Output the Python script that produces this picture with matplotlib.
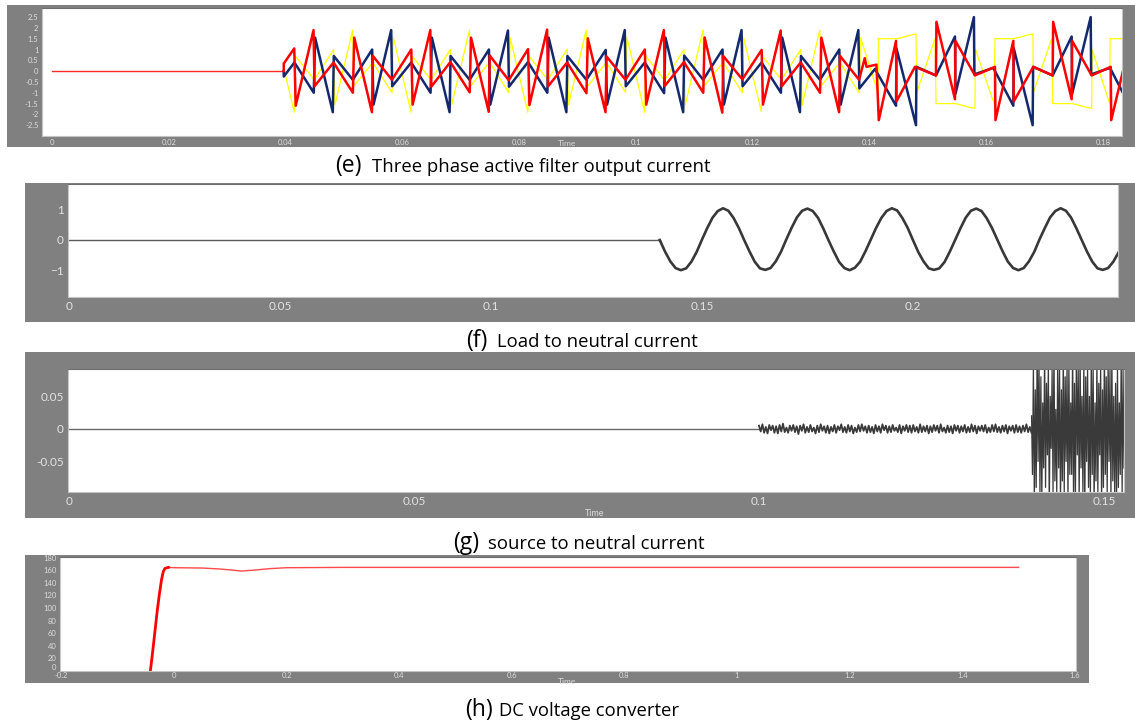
import numpy as np
import matplotlib.pyplot as plt
from matplotlib.patches import Rectangle

W, H = 1135, 723
plt.rcParams['font.family'] = ['Lato', 'DejaVu Sans']

# ---------- (e) three phase active filter output current (times in ms) ----------
idle_ms = [0, 39.7]
idle_v = [0, 0]

red_ms = [39.7, 39.7, 41.5, 41.75, 44.8,
          44.97, 48.23, 51.54, 51.77, 54.8, 54.97, 58.23, 61.54, 61.77, 64.8,
          64.97, 68.23, 71.54, 71.77, 74.8, 74.97, 78.23, 81.54, 81.77, 84.8,
          84.97, 88.23, 91.54, 91.77, 94.8, 94.97, 98.23, 101.54, 101.77, 104.8,
          104.97, 108.23, 111.54, 111.77, 114.8, 114.97, 118.23, 121.54, 121.77, 124.8,
          124.97, 128.23, 131.54, 131.77, 134.8, 134.97, 138.23, 139.2, 139.5, 141.2,
          141.6, 144.55, 144.63, 147.8, 151.39, 151.47, 154.65, 154.73, 158.07, 161.5,
          161.58, 164.64, 164.72, 168.06, 171.38, 171.46, 174.63, 174.71, 178.06, 181.32,
          181.4, 183.5]
red_v = [0, 0.35, 1.05, -1.6, 1.9,
         -0.7, 0.4, -1.0, 1.55, -1.9, 0.7, -0.4, 1.0, -1.55, 1.9,
         -0.72, 0.42, -0.98, 1.55, -1.88, 0.72, -0.42, 1.02, -1.57, 1.92,
         -0.7, 0.4, -1.02, 1.52, -1.9, 0.68, -0.4, 1.0, -1.55, 1.9,
         -0.68, 0.42, -1.0, 1.56, -1.92, 0.7, -0.38, 0.98, -1.55, 1.88,
         -0.7, 0.4, -1.0, 1.55, -1.9, 0.7, -0.4, 0.6, 0.2, 0.3,
         -2.27, 1.4, -1.4, 0.2, -0.2, 2.28, -1.3, 1.4, -0.2, 0.2,
         -2.27, 1.4, -1.4, 0.2, -0.2, 2.28, -1.3, 1.4, -0.2, 0.2,
         -2.27, 0.1]

yellow_ms = [40.0, 41.5, 41.67, 44.93, 48.24, 48.47, 51.5,
             51.67, 54.93, 58.24, 58.47, 61.5, 61.67, 64.93, 68.24, 68.47, 71.5,
             71.67, 74.93, 78.24, 78.47, 81.5, 81.67, 84.93, 88.24, 88.47, 91.5,
             91.67, 94.93, 98.24, 98.47, 101.5, 101.67, 104.93, 108.24, 108.47, 111.5,
             111.67, 114.93, 118.24, 118.47, 121.5, 121.67, 124.93, 128.24, 128.47, 131.5,
             131.67, 134.93, 138.24, 138.47, 141.47, 141.52, 144.66, 145.8, 146.9, 147.97,
             148.08, 151.23, 151.4, 154.65, 155.8, 156.9, 158.07, 158.15, 161.35, 161.5,
             164.64, 165.8, 166.9, 168.0, 168.06, 171.2, 171.38, 174.63, 175.8, 176.9,
             178.06, 178.12, 181.15, 181.2, 183.5]
yellow_v = [-0.2, -1.9, 0.7, -0.4, 1.0, -1.55, 1.9,
            -0.7, 0.4, -1.0, 1.55, -1.9, 0.7, -0.4, 1.0, -1.55, 1.9,
            -0.7, 0.42, -1.0, 1.55, -1.9, 0.7, -0.4, 1.02, -1.55, 1.9,
            -0.72, 0.4, -0.98, 1.55, -1.9, 0.7, -0.42, 1.0, -1.55, 1.9,
            -0.7, 0.4, -1.0, 1.53, -1.88, 0.7, -0.4, 1.0, -1.57, 1.9,
            -0.7, 0.4, -1.0, 1.55, -1.0, 1.5, 1.5, 1.57, 1.66, 1.72,
            -1.0, 1.5, -1.5, -1.5, -1.57, -1.66, -1.72, 1.0, -1.5, 1.5,
            1.5, 1.57, 1.66, 1.72, -1.0, 1.5, -1.5, -1.5, -1.57, -1.66,
            -1.72, 1.0, -1.5, 1.5, 1.5]

blue_ms = [39.7, 39.7, 41.53, 44.84, 45.07, 48.1, 48.27, 51.53, 54.84, 55.07, 58.1,
           58.27, 61.53, 64.84, 65.07, 68.1, 68.27, 71.53, 74.84, 75.07, 78.1,
           78.27, 81.53, 84.84, 85.07, 88.1, 88.27, 91.53, 94.84, 95.07, 98.1,
           98.27, 101.53, 104.84, 105.07, 108.1, 108.27, 111.53, 114.84, 115.07, 118.1,
           118.27, 121.53, 124.84, 125.07, 128.1, 128.27, 131.53, 134.84, 135.07, 138.1,
           138.27, 140.95, 144.55, 144.63, 147.97, 148.05, 151.39, 154.65, 154.73, 157.89,
           157.97, 161.21, 164.64, 164.72, 167.95, 168.03, 171.38, 174.63, 174.71, 177.89,
           177.97, 181.2, 183.3]
blue_v = [0, -0.25, 0.4, -1.0, 1.55, -1.9, 0.7, -0.4, 1.0, -1.55, 1.9,
          -0.7, 0.4, -1.0, 1.55, -1.9, 0.7, -0.4, 1.0, -1.55, 1.88,
          -0.72, 0.42, -1.0, 1.55, -1.9, 0.7, -0.4, 0.98, -1.55, 1.9,
          -0.7, 0.4, -1.02, 1.55, -1.9, 0.72, -0.4, 1.0, -1.55, 1.9,
          -0.7, 0.4, -1.0, 1.55, -1.9, 0.7, -0.4, 1.0, -1.55, 1.9,
          -0.8, 0.1, -1.6, 1.05, -2.5, 0.2, -0.2, 1.6, -1.05, 2.5,
          -0.15, 0.15, -1.6, 1.05, -2.5, 0.2, -0.2, 1.6, -1.05, 2.5,
          -0.15, 0.15, -0.95]

e_xticks = [0, 0.02, 0.04, 0.06, 0.08, 0.1, 0.12, 0.14, 0.16, 0.18]
e_xlabels = ['0', '0.02', '0.04', '0.06', '0.08', '0.1', '0.12', '0.14', '0.16', '0.18']
e_yticks = [2.5, 2, 1.5, 1, 0.5, 0, -0.5, -1, -1.5, -2, -2.5]
e_ylabels = ['2.5', '2', '1.5', '1', '0.5', '0', '-0.5', '-1', '-1.5', '-2', '-2.5']

# ---------- (f) load to neutral current ----------
f_idle_t = [0, 0.14]
f_idle_v = [0, 0]
f_start, f_step = 0.14, 0.00125
f_v = [0, -0.38, -0.70, -0.92, -0.99, -0.93, -0.71, -0.39, 0.01, 0.39, 0.73, 0.95, 1.04, 0.96, 0.72, 0.39,
       0.0, -0.37, -0.71, -0.93, -0.98, -0.92, -0.70, -0.38, 0.02, 0.40, 0.74, 0.96, 1.03, 0.95, 0.73, 0.38,
       -0.01, -0.38, -0.72, -0.92, -0.99, -0.91, -0.71, -0.37, 0.01, 0.39, 0.72, 0.95, 1.04, 0.97, 0.72, 0.40,
       0.0, -0.39, -0.70, -0.93, -0.98, -0.93, -0.72, -0.38, 0.0, 0.38, 0.73, 0.96, 1.03, 0.95, 0.71, 0.39,
       0.01, -0.37, -0.71, -0.92, -0.99, -0.92, -0.70, -0.39, 0.02, 0.39, 0.74, 0.95, 1.04, 0.96, 0.73, 0.38,
       0.0, -0.38, -0.71, -0.93, -0.98, -0.92, -0.71, -0.40]
f_xticks = [0, 0.05, 0.1, 0.15, 0.2]
f_xlabels = ['0', '0.05', '0.1', '0.15', '0.2']
f_yticks = [1, 0, -1]

# ---------- (g) source to neutral current ----------
g_idle_t = [0, 0.1]
g_idle_v = [0, 0]
g_small_span = (0.1, 0.1395)
g_small = [0.005, -0.004, 0.007, -0.006, 0.003, -0.007, 0.006, -0.002, 0.005, -0.006,
           0.004, -0.007, 0.006, -0.004, 0.008, -0.005, 0.002, -0.006, 0.005, -0.003,
           0.006, -0.005, 0.004, -0.008, 0.005, -0.003, 0.007, -0.006, 0.003, -0.005,
           0.006, -0.004, 0.002, -0.007, 0.005, -0.005, 0.007, -0.003, 0.004, -0.006,
           0.005, -0.007, 0.003, -0.004, 0.006, -0.006, 0.004, -0.002, 0.007, -0.005,
           0.003, -0.006, 0.006, -0.004, 0.005, -0.007, 0.002, -0.005, 0.006, -0.004,
           0.007, -0.003, 0.004, -0.006, 0.005, -0.005, 0.003, -0.007, 0.006, -0.004,
           0.004, -0.006, 0.007, -0.002, 0.005, -0.006, 0.004, -0.005, 0.006, -0.003,
           0.002, -0.005, 0.006, -0.007, 0.004, -0.003, 0.006, -0.005, 0.005, -0.006,
           0.006, -0.004, 0.003, -0.006, 0.007, -0.005, 0.004, -0.004, 0.005, -0.007,
           0.004, -0.005, 0.006, -0.003, 0.005, -0.006, 0.007, -0.004, 0.002, -0.006,
           0.005, -0.005, 0.004, -0.007, 0.006, -0.003, 0.005, -0.006, 0.004, -0.004,
           0.006, -0.006, 0.003, -0.005, 0.007, -0.004, 0.005, -0.007, 0.004, -0.003,
           0.005, -0.004, 0.006, -0.006, 0.002, -0.005, 0.006, -0.004, 0.007, -0.005,
           0.003, -0.006, 0.005, -0.004, 0.006, -0.007, 0.004, -0.003, 0.005, -0.006,
           0.006, -0.005, 0.004, -0.006, 0.005, -0.004, 0.007, -0.005, 0.003, -0.006]
g_large_span = (0.1395, 0.1529)
g_large = [0.02, -0.07, 0.10, -0.12, 0.06, -0.09, 0.13, -0.05, 0.11, -0.10,
           0.08, -0.11, 0.04, -0.06, 0.12, -0.09, 0.07, -0.04, 0.10, -0.13,
           0.05, -0.03, 0.09, -0.10, 0.13, -0.08, 0.03, -0.10, 0.11, -0.06,
           0.09, -0.12, 0.06, -0.08, 0.12, -0.10, 0.08, -0.05, 0.10, -0.11,
           0.10, -0.07, 0.04, -0.07, 0.13, -0.12, 0.07, -0.10, 0.11, -0.04,
           0.09, -0.11, 0.12, -0.06, 0.05, -0.10, 0.11, -0.13, 0.08, -0.05,
           0.10, -0.09, 0.05, -0.11, 0.12, -0.07, 0.09, -0.12, 0.04, -0.08,
           0.11, -0.10, 0.07, -0.04, 0.10, -0.12, 0.06, -0.09, 0.13, -0.07,
           0.08, -0.10, 0.11, -0.05, 0.09, -0.11, 0.12, -0.08, 0.05, -0.10,
           0.07, -0.12, 0.10, -0.09, 0.04, -0.07, 0.11, -0.10, 0.09, -0.06]
g_xticks = [0, 0.05, 0.1, 0.15]
g_xlabels = ['0', '0.05', '0.1', '0.15']
g_yticks = [0.05, 0, -0.05]
g_ylabels = ['0.05', '0', '-0.05']

# ---------- (h) DC voltage converter ----------
h_rise_t = [-0.042, -0.038, -0.034, -0.030, -0.026, -0.022, -0.019, -0.016, -0.010]
h_rise_v = [0, 30, 62, 94, 122, 146, 158, 163, 164.5]
h_flat_t = [-0.010, 0.0, 0.05, 0.08, 0.10, 0.12, 0.14, 0.17, 0.20, 0.30, 0.60, 1.0, 1.5]
h_flat_v = [164.5, 164, 163.5, 162, 160.5, 158.7, 160, 162.5, 164, 164.5, 164.5, 164.5, 164.5]
h_xticks = [-0.2, 0, 0.2, 0.4, 0.6, 0.8, 1, 1.2, 1.4, 1.6]
h_xlabels = ['-0.2', '0', '0.2', '0.4', '0.6', '0.8', '1', '1.2', '1.4', '1.6']
h_yticks = [0, 20, 40, 60, 80, 100, 120, 140, 160, 180]

captions = [('(e)', 'Three phase active filter output current', 335, 372, 166),
            ('(f)', 'Load to neutral current', 466, 497, 341),
            ('(g)', 'source to neutral current', 453, 488, 543),
            ('(h)', 'DC voltage converter', 465, 499, 710)]

GRAY = '#808080'
LABEL = '#e2e2e2'

fig = plt.figure(figsize=(W / 100, H / 100), dpi=100)


def frame(x0, y0, x1, y1):
    fig.add_artist(Rectangle((x0 / W, 1 - y1 / H), (x1 - x0) / W, (y1 - y0) / H,
                             transform=fig.transFigure, facecolor=GRAY,
                             edgecolor='none', zorder=-5))


def panel(x0, y0, x1, y1):
    ax = fig.add_axes([x0 / W, 1 - y1 / H, (x1 - x0) / W, (y1 - y0) / H])
    ax.set_facecolor('white')
    for s in ax.spines.values():
        s.set_color('#c4c4c4')
        s.set_linewidth(0.8)
    ax.spines['top'].set_color('#6e6e6e')
    return ax


# (e)
frame(7, 5, 1135, 147)
ax = panel(42, 8, 1122, 136)
ax.plot(np.array(idle_ms) / 1000, idle_v, color='#ff2a2a', lw=1.0)
ax.plot(np.array(yellow_ms) / 1000, yellow_v, color='#ffff00', lw=0.9)
ax.plot(np.array(blue_ms) / 1000, blue_v, color='#14286e', lw=1.8)
ax.plot(np.array(red_ms) / 1000, red_v, color='#ff0000', lw=1.8)
ax.set_xlim(-0.0017, 0.18325)
ax.set_ylim(-3.0, 2.92)
ax.set_xticks(e_xticks, e_xlabels)
ax.set_yticks(e_yticks, e_ylabels)
ax.tick_params(length=0, labelsize=5.5, labelcolor='#dcdcdc', pad=2.5)
fig.text(567 / W, 1 - 144 / H, 'Time', fontsize=6, color='#dcdcdc', ha='center', va='center')

# (f)
frame(25, 183, 1135, 322)
ax = panel(68, 184, 1118, 297)
ax.plot(f_idle_t, f_idle_v, color='#5a5a5a', lw=1.0)
f_t = np.linspace(f_start, f_start + f_step * (len(f_v) - 1), len(f_v))
ax.plot(f_t, f_v, color='#383838', lw=1.9)
ax.set_xlim(-0.00024, 0.2486)
ax.set_ylim(-1.869, 1.836)
ax.set_xticks(f_xticks, f_xlabels)
ax.set_yticks(f_yticks)
ax.tick_params(length=0, labelsize=8.5, labelcolor=LABEL, pad=3)

# (g)
frame(25, 352, 1135, 518)
ax = panel(68, 369, 1124, 492)
ax.plot(g_idle_t, g_idle_v, color='#6a6a6a', lw=1.0)
gs_t = np.linspace(g_small_span[0], g_small_span[1], len(g_small))
ax.plot(gs_t, g_small, color='#3a3a3a', lw=1.3)
gl_t = np.linspace(g_large_span[0], g_large_span[1], len(g_large))
ax.plot(gl_t, g_large, color='#3a3a3a', lw=0.9)
ax.set_xlim(-0.00014, 0.1529)
ax.set_ylim(-0.097, 0.092)
ax.set_xticks(g_xticks, g_xlabels)
ax.set_yticks(g_yticks, g_ylabels)
ax.tick_params(length=0, labelsize=8.5, labelcolor=LABEL, pad=3)
fig.text(595 / W, 1 - 513 / H, 'Time', fontsize=6.5, color='#dcdcdc', ha='center', va='center')

# (h)
frame(25, 555, 1089, 683)
ax = panel(60, 557, 1076, 671)
ax.plot(h_flat_t, h_flat_v, color='#ff4848', lw=1.0)
ax.plot(h_rise_t, h_rise_v, color='#ff0000', lw=2.0)
ax.set_xlim(-0.2025, 1.602)
ax.set_ylim(0, 181)
ax.set_xticks(h_xticks, h_xlabels)
ax.set_yticks(h_yticks)
ax.tick_params(axis='x', length=0, labelsize=5.5, labelcolor='#dcdcdc', pad=1.0)
ax.tick_params(axis='y', length=0, labelsize=5.5, labelcolor='#dcdcdc', pad=2.5)
ax.get_yticklabels()[0].set_verticalalignment('bottom')
fig.text(567 / W, 1 - 681 / H, 'Time', fontsize=6, color='#dcdcdc', ha='center', va='center')

for tag, text, xt, xc, yc in captions:
    fig.text(xt / W, 1 - yc / H, tag, fontsize=16.5, color='black', ha='left', va='center',
             family=['Open Sans', 'DejaVu Sans'])
    fig.text(xc / W, 1 - (yc + 1) / H, text, fontsize=13.3, color='black', ha='left', va='center',
             family=['Open Sans', 'DejaVu Sans'])

fig.savefig('out.png', dpi=100)
